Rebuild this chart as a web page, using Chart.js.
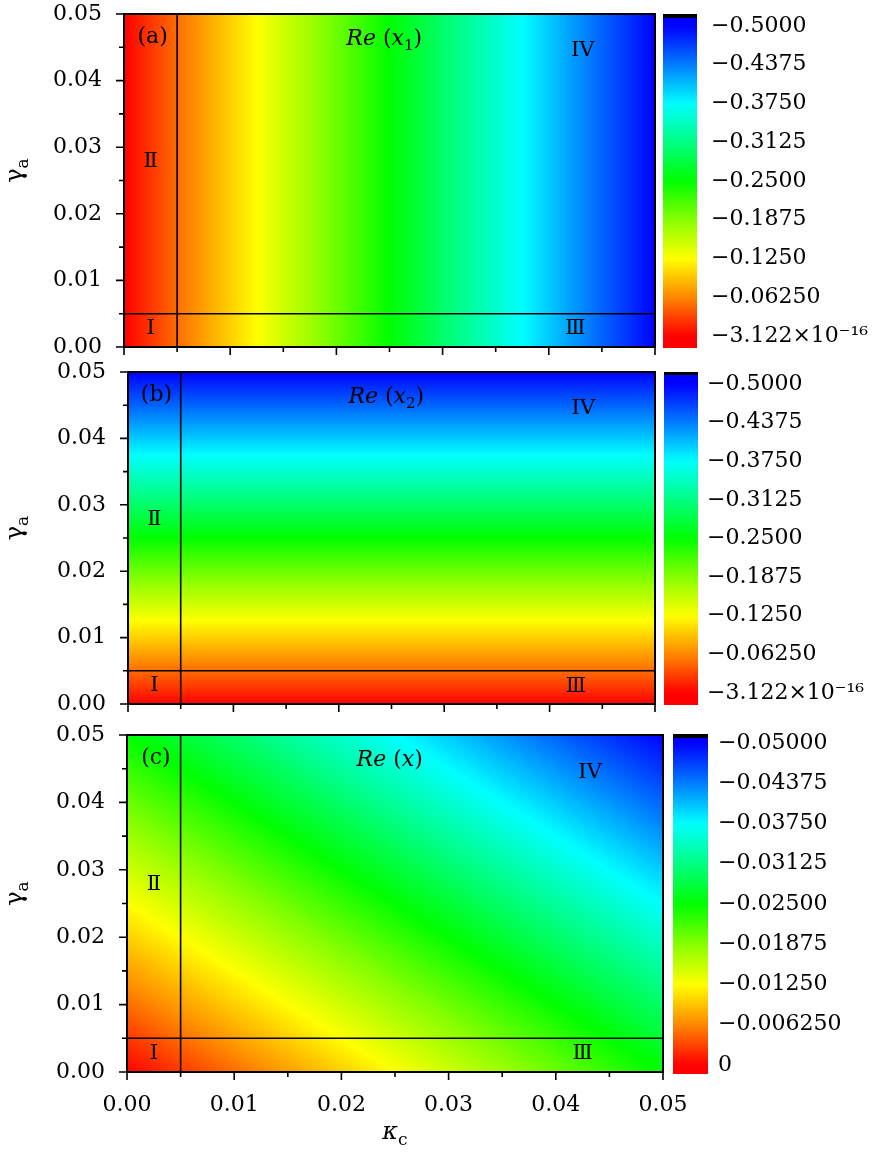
<!DOCTYPE html>
<html lang="en">
<head>
  <meta charset="UTF-8" />
  <title>Re(x) maps</title>
  <script src="https://cdn.jsdelivr.net/npm/chart.js"></script>
  <style>
    body { margin: 0; background: #fff; }
    .stage { position: relative; width: 884px; height: 1159px; overflow: hidden; }
    .stage canvas { position: absolute; left: 0; top: -40px; }
  </style>
</head>
<body>
  <div class="stage">
    <canvas id="mapA" width="884" height="1240"></canvas>
    <canvas id="mapB" width="884" height="1240"></canvas>
    <canvas id="mapC" width="884" height="1240"></canvas>
    <canvas id="barA" width="884" height="1240"></canvas>
    <canvas id="barB" width="884" height="1240"></canvas>
    <canvas id="barC" width="884" height="1240"></canvas>
  </div>

  <script>
    // grid the values were read on
    const kappaC = [0, 0.01, 0.02, 0.03, 0.04, 0.05];
    const gammaA = [0, 0.01, 0.02, 0.03, 0.04, 0.05];

    // (a) Re(x1) only changes along kappa_c
    const reX1 = [0, -0.1, -0.2, -0.3, -0.4, -0.5];
    // (b) Re(x2) only changes along gamma_a
    const reX2 = [0, -0.1, -0.2, -0.3, -0.4, -0.5];
    // (c) Re(x), rows = gammaA, cols = kappaC
    const reX = [
      [0, -0.005, -0.010, -0.015, -0.020, -0.025],
      [-0.005, -0.010, -0.015, -0.020, -0.025, -0.030],
      [-0.010, -0.015, -0.020, -0.025, -0.030, -0.035],
      [-0.015, -0.020, -0.025, -0.030, -0.035, -0.040],
      [-0.020, -0.025, -0.030, -0.035, -0.040, -0.045],
      [-0.025, -0.030, -0.035, -0.040, -0.045, -0.050]
    ];

    const axisTicks = [0, 0.01, 0.02, 0.03, 0.04, 0.05];
    const minorTicks = [0.005, 0.015, 0.025, 0.035, 0.045];
    const regionEdge = 0.005;

    const cbTicksAB = [-0.5, -0.4375, -0.375, -0.3125, -0.25, -0.1875, -0.125, -0.0625, 0];
    const cbLabelsAB = ['\u22120.5000', '\u22120.4375', '\u22120.3750', '\u22120.3125', '\u22120.2500',
      '\u22120.1875', '\u22120.1250', '\u22120.06250', '\u22123.122\u00d710\u207b\u00b9\u2076'];
    const cbTicksC = [-0.05, -0.04375, -0.0375, -0.03125, -0.025, -0.01875, -0.0125, -0.00625, 0];
    const cbLabelsC = ['\u22120.05000', '\u22120.04375', '\u22120.03750', '\u22120.03125', '\u22120.02500',
      '\u22120.01875', '\u22120.01250', '\u22120.006250', '0'];

    const SERIF = '"DejaVu Serif", "Liberation Serif", serif';
    const tickFont = { family: SERIF, size: 22 };
    const OFF = 40;      // canvases start 40px above the page
    const CH = 1240;     // canvas height

    // red -> yellow -> green -> cyan -> blue
    const colorStops = [
      [0, [255, 0, 0]], [0.125, [255, 135, 0]], [0.25, [255, 255, 0]], [0.375, [135, 255, 0]],
      [0.5, [0, 255, 0]], [0.625, [0, 255, 130]], [0.75, [0, 255, 255]], [0.875, [0, 125, 255]],
      [1, [0, 0, 255]]
    ];

    function colorAt(v, vmin) {
      let t = v / vmin;
      t = Math.max(0, Math.min(1, t));
      for (let k = 1; k < colorStops.length; k++) {
        const [t1, c1] = colorStops[k];
        const [t0, c0] = colorStops[k - 1];
        if (t <= t1) {
          const f = (t - t0) / (t1 - t0);
          const c = c0.map((a, n) => Math.round(a + (c1[n] - a) * f));
          return 'rgb(' + c.join(',') + ')';
        }
      }
      return 'rgb(0,0,255)';
    }

    function drawRich(ctx, parts, x, y, size) {
      // parts: [text, style]  style: '' normal, 'i' italic, 's' subscript
      const fontOf = s => (s === 'i' ? 'italic ' : '') + (s === 's' ? Math.round(size * 0.7) : size) + 'px ' + SERIF;
      let w = 0;
      parts.forEach(([t, s]) => { ctx.font = fontOf(s); w += ctx.measureText(t).width; });
      let cx = x - w / 2;
      ctx.textAlign = 'left';
      ctx.textBaseline = 'middle';
      parts.forEach(([t, s]) => {
        ctx.font = fontOf(s);
        ctx.fillText(t, cx, s === 's' ? y + size * 0.3 : y);
        cx += ctx.measureText(t).width;
      });
    }

    const panels = {
      mapA: { grid: gammaA.map(() => reX1.slice()), vmin: -0.5, letter: '(a)',
        title: [['Re', 'i'], [' (', ''], ['x', 'i'], ['1', 's'], [')', '']] },
      mapB: { grid: reX2.map(v => kappaC.map(() => v)), vmin: -0.5, letter: '(b)',
        title: [['Re', 'i'], [' (', ''], ['x', 'i'], ['2', 's'], [')', '']] },
      mapC: { grid: reX, vmin: -0.05, letter: '(c)', xTitle: true,
        title: [['Re', 'i'], [' (', ''], ['x', 'i'], [')', '']] }
    };

    const regionLabels = [
      { text: '\u2161', k: 0.0025, g: 0.0278 },
      { text: 'I', k: 0.0025, g: 0.0028 },
      { text: '\u2162', k: 0.0425, g: 0.0027 },
      { text: 'IV', k: 0.0432, g: 0.0445 }
    ];

    const heatPlugin = {
      id: 'heat',
      beforeDatasetsDraw(chart) {
        const p = panels[chart.canvas.id];
        const { ctx, chartArea: a, scales: { x, y } } = chart;
        ctx.save();
        ctx.beginPath();
        ctx.rect(a.left, a.top, a.width, a.height);
        ctx.clip();
        for (let j = 0; j < gammaA.length - 1; j++) {
          for (let i = 0; i < kappaC.length - 1; i++) {
            const x0 = x.getPixelForValue(kappaC[i]), x1 = x.getPixelForValue(kappaC[i + 1]);
            const y0 = y.getPixelForValue(gammaA[j]), y1 = y.getPixelForValue(gammaA[j + 1]);
            const v00 = p.grid[j][i], v10 = p.grid[j][i + 1], v01 = p.grid[j + 1][i];
            const gx = (v10 - v00) / (x1 - x0), gy = (v01 - v00) / (y1 - y0);
            const g2 = gx * gx + gy * gy;
            const corners = [v00, v10, v01, v10 + v01 - v00];
            const lo = Math.min(...corners), hi = Math.max(...corners);
            let fill;
            if (g2 < 1e-16 || hi - lo < 1e-12) {
              fill = colorAt(v00, p.vmin);
            } else {
              const px = v => x0 + gx * (v - v00) / g2;
              const py = v => y0 + gy * (v - v00) / g2;
              fill = ctx.createLinearGradient(px(lo), py(lo), px(hi), py(hi));
              for (let k = 0; k <= 24; k++) {
                fill.addColorStop(k / 24, colorAt(lo + (hi - lo) * k / 24, p.vmin));
              }
            }
            ctx.fillStyle = fill;
            ctx.fillRect(Math.min(x0, x1) - 0.5, Math.min(y0, y1) - 0.5, Math.abs(x1 - x0) + 1, Math.abs(y1 - y0) + 1);
          }
        }
        ctx.restore();
      },
      afterDraw(chart) {
        const p = panels[chart.canvas.id];
        const { ctx, chartArea: a, scales: { x, y } } = chart;
        ctx.save();
        ctx.strokeStyle = '#000';
        ctx.fillStyle = '#000';

        // region boundaries
        ctx.lineWidth = 1.6;
        const ex = x.getPixelForValue(regionEdge), ey = y.getPixelForValue(regionEdge);
        ctx.beginPath();
        ctx.moveTo(ex, a.top); ctx.lineTo(ex, a.bottom);
        ctx.moveTo(a.left, ey); ctx.lineTo(a.right, ey);
        ctx.stroke();

        // frame
        ctx.lineWidth = 2;
        ctx.strokeRect(a.left, a.top, a.width, a.height);

        // outward ticks, major and minor
        ctx.lineWidth = 1.6;
        ctx.beginPath();
        axisTicks.forEach(v => {
          const tx = x.getPixelForValue(v), ty = y.getPixelForValue(v);
          ctx.moveTo(tx, a.bottom); ctx.lineTo(tx, a.bottom + 8);
          ctx.moveTo(a.left, ty); ctx.lineTo(a.left - 8, ty);
        });
        minorTicks.forEach(v => {
          const tx = x.getPixelForValue(v), ty = y.getPixelForValue(v);
          ctx.moveTo(tx, a.bottom); ctx.lineTo(tx, a.bottom + 5);
          ctx.moveTo(a.left, ty); ctx.lineTo(a.left - 5, ty);
        });
        ctx.stroke();

        // labels inside the map
        ctx.textAlign = 'center';
        ctx.textBaseline = 'middle';
        ctx.font = '22px ' + SERIF;
        ctx.fillText(p.letter, x.getPixelForValue(0.0027), y.getPixelForValue(0.0465));
        drawRich(ctx, p.title, x.getPixelForValue(0.0245), y.getPixelForValue(0.0462), 22);
        ctx.font = '21px ' + SERIF;
        ctx.textAlign = 'center';
        regionLabels.forEach(r => {
          ctx.fillText(r.text, x.getPixelForValue(r.k), y.getPixelForValue(r.g));
        });

        // y title (gamma_a), rotated
        ctx.save();
        ctx.translate(16, (a.top + a.bottom) / 2 - 10);
        ctx.rotate(-Math.PI / 2);
        drawRich(ctx, [['\u03b3', ''], ['a', 's']], 0, 0, 24);
        ctx.restore();

        // x title (kappa_c) under the last map
        if (p.xTitle) {
          drawRich(ctx, [['\u03ba', 'i'], ['c', 's']], (a.left + a.right) / 2, 1133 + OFF, 24);
        }
        ctx.restore();
      }
    };

    function makeMap(id, box, showX) {
      return new Chart(document.getElementById(id), {
        type: 'scatter',
        data: { datasets: [] },
        options: {
          responsive: false,
          animation: false,
          devicePixelRatio: 1,
          layout: { padding: { left: box.left - 110, top: box.top + OFF, right: 884 - box.right, bottom: CH - box.bottom - OFF - 40 } },
          plugins: { legend: { display: false }, tooltip: { enabled: false } },
          scales: {
            x: {
              type: 'linear', min: 0, max: 0.05,
              afterBuildTicks: s => { s.ticks = axisTicks.map(v => ({ value: v })); },
              afterFit: s => { s.height = 40; },
              grid: { display: false, drawTicks: false },
              border: { display: false },
              ticks: { display: showX, padding: 20, font: tickFont, color: '#000', maxRotation: 0, autoSkip: false,
                callback: v => v.toFixed(2) }
            },
            y: {
              type: 'linear', min: 0, max: 0.05,
              afterBuildTicks: s => { s.ticks = axisTicks.map(v => ({ value: v })); },
              afterFit: s => { s.width = 110; },
              grid: { display: false, drawTicks: false },
              border: { display: false },
              ticks: { padding: 22, font: tickFont, color: '#000', autoSkip: false,
                callback: v => v.toFixed(2) }
            }
          }
        },
        plugins: [heatPlugin]
      });
    }

    function barGradient(chart, vmin) {
      const { ctx, chartArea: a, scales: { y } } = chart;
      const g = ctx.createLinearGradient(0, a.bottom, 0, a.top);
      const black = 3.5 / a.height;
      const n = 60;
      for (let k = 0; k <= n; k++) {
        const f = (k / n) * (1 - black);
        const v = y.getValueForPixel(a.bottom - f * a.height);
        g.addColorStop(f, colorAt(v, vmin));
      }
      g.addColorStop(1 - black, '#000');
      g.addColorStop(1, '#000');
      return g;
    }

    function makeBar(id, ticks, labels, vmin, box, padPx, labelPad) {
      const step = (box.bottom - box.top - 2 * padPx) / (ticks.length - 1);
      const ext = padPx / step * (-vmin / (ticks.length - 1));
      const lo = vmin - ext, hi = ext;
      return new Chart(document.getElementById(id), {
        type: 'bar',
        data: {
          labels: ['cb'],
          datasets: [{
            data: [[lo, hi]],
            backgroundColor: c => (c.chart.chartArea ? barGradient(c.chart, vmin) : '#f00'),
            borderWidth: 0,
            barPercentage: 1,
            categoryPercentage: 1
          }]
        },
        options: {
          responsive: false,
          animation: false,
          devicePixelRatio: 1,
          layout: { padding: { left: box.left, right: 884 - box.right - 175, top: box.top + OFF, bottom: CH - box.bottom - OFF } },
          plugins: { legend: { display: false }, tooltip: { enabled: false } },
          scales: {
            x: { display: false },
            y: {
              position: 'right', reverse: true, min: lo, max: hi,
              afterBuildTicks: s => { s.ticks = ticks.map(v => ({ value: v })); },
              afterFit: s => { s.width = 175; },
              grid: { display: false, drawTicks: false },
              border: { display: false },
              ticks: {
                padding: labelPad, font: tickFont, color: '#000', autoSkip: false,
                callback: v => {
                  let best = 0;
                  ticks.forEach((t, n) => { if (Math.abs(t - v) < Math.abs(ticks[best] - v)) best = n; });
                  return labels[best];
                }
              }
            }
          }
        }
      });
    }

    makeMap('mapA', { left: 124, right: 655, top: 14, bottom: 347 }, false);
    makeMap('mapB', { left: 128, right: 655, top: 372, bottom: 704 }, false);
    makeMap('mapC', { left: 127, right: 663, top: 735, bottom: 1072 }, true);

    makeBar('barA', cbTicksAB, cbLabelsAB, -0.5, { left: 663, right: 697, top: 14, bottom: 348 }, 12, 14);
    makeBar('barB', cbTicksAB, cbLabelsAB, -0.5, { left: 664, right: 698, top: 372, bottom: 705 }, 12, 9);
    makeBar('barC', cbTicksC, cbLabelsC, -0.05, { left: 673, right: 708, top: 734, bottom: 1074 }, 9, 10);
  </script>
</body>
</html>
